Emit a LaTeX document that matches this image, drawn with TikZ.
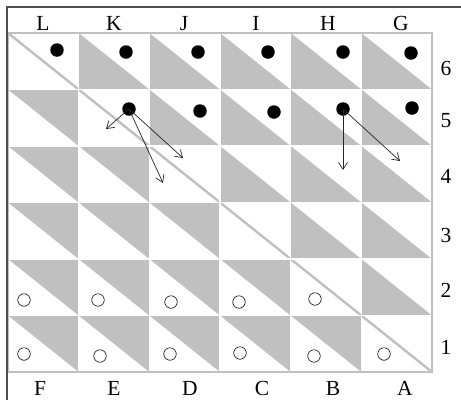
\documentclass[tikz,border=0pt]{standalone}
\usepackage{fontspec}
\setmainfont{Liberation Serif}
\usetikzlibrary{arrows.meta}
\definecolor{cellgray}{RGB}{192,192,192}
\definecolor{framegray}{RGB}{80,80,80}
\begin{document}
\begin{tikzpicture}[x=1pt,y=-1pt,
  shade/.style={fill=cellgray},
  diag/.style={draw=cellgray,line width=2.4pt},
  gap/.style={draw=white,line width=1.6pt},
  border/.style={draw=cellgray,line width=1.6pt},
  frame/.style={draw=framegray,line width=1.4pt},
  dot/.style={circle,fill=black,inner sep=0pt,minimum size=13.5pt},
  ring/.style={circle,draw=black,line width=0.6pt,inner sep=0pt,minimum size=12.5pt},
  lbl/.style={inner sep=0pt,anchor=base,font=\fontsize{21.5}{25}\selectfont},
  arr/.style={draw=black!85,line width=0.7pt,-{Straight Barb[length=7pt,width=9pt,line width=0.7pt]}}]
\useasboundingbox (0,0) rectangle (461,400);
\fill[white] (0,0) rectangle (461,400);
% cells
\foreach \i in {0,...,5}{
  \foreach \j in {0,...,5}{
    \pgfmathsetmacro{\xa}{8+70.667*\i}
    \pgfmathsetmacro{\xb}{8+70.667*(\i+1)}
    \pgfmathsetmacro{\ya}{33+56.5*\j}
    \pgfmathsetmacro{\yb}{33+56.5*(\j+1)}
    \ifnum\i>\j
      \fill[shade] (\xa,\ya) -- (\xa,\yb) -- (\xb,\yb) -- cycle;
    \fi
    \ifnum\i<\j
      \fill[shade] (\xa,\ya) -- (\xb,\ya) -- (\xb,\yb) -- cycle;
    \fi
    \ifnum\i=\j
      \path[diag] (\xa,\ya) -- (\xb,\yb);
    \fi
  }
}
% white gaps between cells
\foreach \k in {1,...,5}{
  \pgfmathsetmacro{\xx}{8+70.667*\k}
  \pgfmathsetmacro{\yy}{33+56.5*\k}
  \path[gap] (\xx,33) -- (\xx,372);
  \path[gap] (8,\yy) -- (432,\yy);
}
\path[border] (8,33) rectangle (432,372);
\path[frame] (461,7) -- (7,7) -- (7,400);
% header labels
\node[lbl] (hL) at (43,30) {L};
\node[lbl] (hK) at (114,30) {K};
\node[lbl] (hJ) at (184,30) {J};
\node[lbl] (hI) at (256,30) {I};
\node[lbl] (hH) at (328,30) {H};
\node[lbl] (hG) at (401,30) {G};
% footer labels
\node[lbl] (fF) at (40,395) {F};
\node[lbl] (fE) at (114,395) {E};
\node[lbl] (fD) at (190,395) {D};
\node[lbl] (fC) at (262,395) {C};
\node[lbl] (fB) at (333,395) {B};
\node[lbl] (fA) at (405,395) {A};
% row numbers
\node[lbl] (r6) at (446,75) {6};
\node[lbl] (r5) at (446,127) {5};
\node[lbl] (r4) at (446,183) {4};
\node[lbl] (r3) at (446,242) {3};
\node[lbl] (r2) at (446,297) {2};
\node[lbl] (r1) at (446,354) {1};
% black pieces
\node[dot] (dL6) at (57,50) {};
\node[dot] (dK6) at (126,52) {};
\node[dot] (dJ6) at (198,52) {};
\node[dot] (dI6) at (268,52) {};
\node[dot] (dH6) at (343,52) {};
\node[dot] (dG6) at (411,53) {};
\node[dot] (dK5) at (129,109) {};
\node[dot] (dJ5) at (200,111) {};
\node[dot] (dI5) at (274,112) {};
\node[dot] (dH5) at (343,109) {};
\node[dot] (dG5) at (412,108) {};
% white pieces
\node[ring] (wL2) at (24,300) {};
\node[ring] (wK2) at (98,300) {};
\node[ring] (wJ2) at (171,302) {};
\node[ring] (wI2) at (239,302) {};
\node[ring] (wH2) at (315,299) {};
\node[ring] (wL1) at (24,354) {};
\node[ring] (wK1) at (100,356) {};
\node[ring] (wJ1) at (170,354) {};
\node[ring] (wI1) at (240,353) {};
\node[ring] (wH1) at (314,356) {};
\node[ring] (wG1) at (384,354) {};
% move targets
\coordinate (t1) at (106,129);
\coordinate (t2) at (163,183);
\coordinate (t3) at (183,158);
\coordinate (t4) at (343,170);
\coordinate (t5) at (400,161);
\draw[arr] (dK5.center) -- (t1);
\draw[arr] (dK5.center) -- (t2);
\draw[arr] (dK5.center) -- (t3);
\draw[arr] (dH5.center) -- (t4);
\draw[arr] (dH5.center) -- (t5);
\end{tikzpicture}
\end{document}
